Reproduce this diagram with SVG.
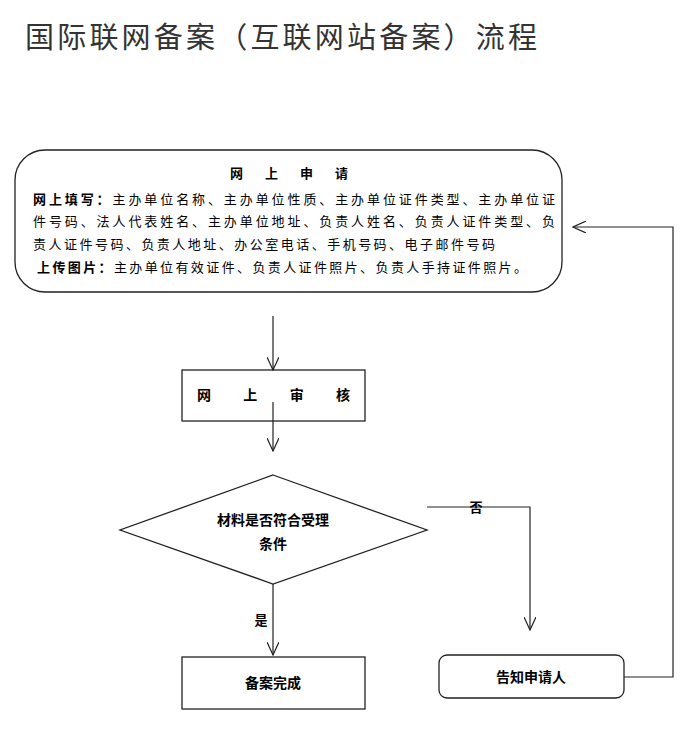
<svg xmlns="http://www.w3.org/2000/svg" width="688" height="729" viewBox="0 0 688 729">
<style>
.t{font-family:"Noto Sans CJK SC",sans-serif;fill:#000}
.b{font-weight:bold}
.s{fill:#fff;stroke:#222;stroke-width:1.3}
.c{fill:none;stroke:#222;stroke-width:1.2}
</style>
<defs><marker id="a" markerWidth="14" markerHeight="12" refX="13" refY="6" orient="auto" markerUnits="userSpaceOnUse" viewBox="0 0 14 12"><path d="M0,0 L13,6 L0,12" fill="none" stroke="#222" stroke-width="1.2"/></marker></defs>
<rect width="688" height="729" fill="#fff"/>
<text x="25" y="48" class="t" font-size="29" textLength="512" style="fill:#333">国际联网备案（互联网站备案）流程</text>
<g id="n1"><rect x="15" y="150" width="547" height="142" rx="30" class="s"/>
<text x="230" y="178" class="t b" font-size="13" textLength="118">网上申请</text>
<text x="33" y="204" class="t" font-size="13" textLength="522"><tspan class="b">网上填写：</tspan>主办单位名称、主办单位性质、主办单位证件类型、主办单位证</text>
<text x="33" y="226" class="t" font-size="13" textLength="522">件号码、法人代表姓名、主办单位地址、负责人姓名、负责人证件类型、负</text>
<text x="33" y="249" class="t" font-size="13" textLength="462">责人证件号码、负责人地址、办公室电话、手机号码、电子邮件号码</text>
<text x="37" y="272" class="t" font-size="13" textLength="490"><tspan class="b">上传图片：</tspan>主办单位有效证件、负责人证件照片、负责人手持证件照片。</text></g>
<g id="n2"><rect x="182" y="370" width="183" height="51" class="s"/>
<text x="197" y="400" class="t b" font-size="14" textLength="153">网上审核</text></g>
<g id="n3"><polygon points="273,475 427,530 273,584 120,530" class="s"/>
<text x="273" y="525" class="t b" font-size="14" text-anchor="middle">材料是否符合受理</text>
<text x="273" y="549" class="t b" font-size="14" text-anchor="middle">条件</text></g>
<g id="n4"><rect x="182" y="657" width="183" height="52" class="s"/>
<text x="273" y="688" class="t b" font-size="14" text-anchor="middle">备案完成</text></g>
<g id="n5"><rect x="439" y="655" width="185" height="43" rx="8" class="s"/>
<text x="531" y="682" class="t b" font-size="14" text-anchor="middle">告知申请人</text></g>
<g id="edges">
<line x1="273" y1="316" x2="273" y2="370" class="c" marker-end="url(#a)"/>
<line x1="273" y1="402" x2="273" y2="451" class="c" marker-end="url(#a)"/>
<line x1="273" y1="584" x2="273" y2="655" class="c" marker-end="url(#a)"/>
<polyline points="427,507 530,507 530,630" class="c" marker-end="url(#a)"/>
<polyline points="624,677 673,677 673,227 573,227" class="c" marker-end="url(#a)"/>
<text x="476" y="512" class="t b" font-size="13" text-anchor="middle">否</text>
<text x="261" y="625" class="t b" font-size="13" text-anchor="middle">是</text>
</g>
</svg>
